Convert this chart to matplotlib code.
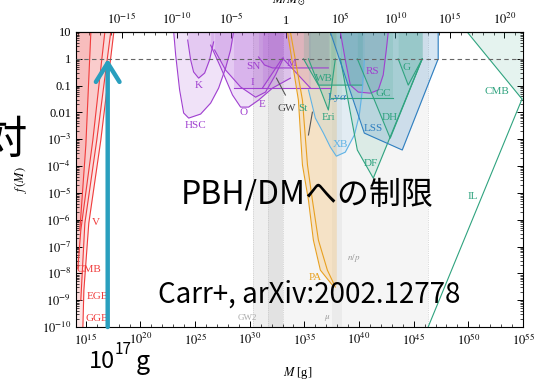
import numpy as np
import matplotlib.pyplot as plt
from matplotlib.ticker import FixedLocator, FixedFormatter, LogLocator, NullFormatter

plt.rcParams['font.family'] = ['Liberation Serif', 'DejaVu Serif']
plt.rcParams['mathtext.fontset'] = 'stix'

M_SUN = 2e33
LOGM_MIN, LOGM_MAX = 14.1, 55.0
LOGF_MIN, LOGF_MAX = -10.0, 1.0

# all curves are (log10 M [g], log10 f)
# evaporation
ggb_m = [17.56, 16.37, 15.27, 14.82, 14.73]
ggb_f = [1.0, -3.03, -6.13, -8.63, -10.0]
egb_m = [17.28, 16.0, 14.91, 14.54]
egb_f = [1.0, -3.03, -6.13, -9.0]
cmbe_m = [16.74, 15.64, 14.54, 14.27]
cmbe_f = [1.0, -3.03, -6.39, -7.81]
voy_m = [15.46, 15.0, 14.45]
voy_f = [1.0, -3.22, -6.39]

# lensing
hsc_m = [23.04, 23.22, 23.58, 23.95, 24.41, 25.50, 26.42, 27.15, 27.79, 28.24, 28.52]
hsc_f = [1.0, 0.14, -1.16, -2.02, -2.21, -2.06, -1.65, -1.09, -0.34, 0.33, 1.0]
kep_m = [24.32, 24.59, 24.86, 25.32, 25.87, 26.32, 26.69]
kep_f = [0.70, -0.04, -0.49, -0.72, -0.53, -0.04, 0.63]
ogle_m = [26.42, 27.33, 28.42, 29.16, 29.89, 30.80, 32.08, 33.72]
ogle_f = [0.51, -0.31, -1.35, -1.80, -1.80, -1.54, -1.09, -0.72]
eros_m = [26.78, 27.79, 29.16, 30.53, 31.44, 32.35, 33.08]
eros_f = [0.33, -0.42, -1.05, -1.43, -1.24, -0.60, 0.03]
ica_m = [28.52, 37.37]
ica_f = [-1.09, -1.09]
sn_m = [30.80, 31.35, 32.08, 34.63, 37.19]
sn_f = [0.07, -0.23, -0.34, -0.34, -0.34]
mac_m = [31.16, 32.99, 35.55]
mac_f = [-1.09, 0.03, -1.09]
rs_m = [38.29, 38.74, 39.20, 39.93, 41.03, 41.76, 42.21, 42.49, 42.67]
rs_f = [1.0, -0.04, -0.98, -1.24, -1.28, -1.16, -0.60, 0.33, 1.0]

# gravitational waves (short curve pieces)
gw1_m = [32.44, 33.26]
gw1_f = [-0.72, -1.35]
gw2_m = [35.73, 35.37]
gw2_f = [-1.99, -2.84]

# dynamical / large scale structure
wb_m = [34.91, 36.28, 40.30]
wb_f = [0.0, -0.98, -0.98]
eri_m = [35.37, 37.19, 37.83]
eri_f = [0.0, -1.91, 0.0]
xb_m = [35.37, 36.00, 36.74, 37.37, 37.92, 38.74, 39.57, 40.02, 40.30, 40.48]
xb_f = [-1.16, -2.21, -2.77, -3.29, -3.63, -3.48, -2.84, -2.10, -1.16, -0.04]
df_m = [38.29, 39.84, 41.30, 45.78]
df_f = [0.0, -3.40, -4.45, 0.0]
dh_m = [39.84, 42.85, 45.78]
dh_f = [0.0, -2.96, 0.0]
lss_m = [37.37, 40.48, 43.95, 47.24, 47.24]
lss_f = [1.0, -2.77, -3.40, 0.0, 1.0]
gc_m = [37.40, 43.13]
gc_f = [-1.46, -1.46]
g_m = [43.58, 44.50, 45.78]
g_f = [0.0, -0.98, 0.0]
cmb_m = [49.89, 54.91]
cmb_f = [1.0, -1.50]
il_m = [54.91, 46.32]
il_f = [-1.50, -10.0]

# accretion
pa1_m = [33.45, 34.45, 34.82, 35.37, 35.82, 36.46, 37.56]
pa1_f = [1.0, -1.54, -3.96, -5.27, -6.76, -7.88, -8.44]
pa2_m = [33.72, 34.82, 35.28, 35.73, 36.28, 37.10, 37.83]
pa2_f = [1.0, -1.54, -3.96, -5.27, -6.76, -7.88, -8.51]
pa_edge = 37.92

# grey bands (GW, n/p, mu)
band_lo = [30.25, 31.71, 33.08, 37.56]
band_hi = [31.71, 33.08, 46.32, 38.40]
band_col = ['#efefef', '#e2e2e2', '#f5f5f5', '#ebebeb']

PURPLE = '#a040d0'
GREEN = '#2fa37f'
BLUE = '#2f7fc0'
LBLUE = '#5fb3e6'
RED = '#f03c3c'
ORANGE = '#e8a020'

labels = ['K', 'HSC', 'O', 'E', 'I', 'SN', 'M', 'RS', 'G', 'WB', r'Ly$\alpha$', 'GC',
          'GW', 'St', 'Eri', 'DH', 'LSS', 'XB', 'DF', 'CMB', 'IL', 'PA', r'$n/p$',
          r'$\mu$', 'GW2', 'V', 'CMB', 'EGB', 'GGB']
label_m = [25.32, 25.05, 29.43, 31.16, 30.25, 30.34, 33.81, 41.21, 44.32, 36.83, 38.01, 42.21,
           33.36, 34.82, 37.19, 42.85, 41.30, 38.29, 41.12, 52.63, 50.43, 36.00, 39.47,
           37.10, 29.79, 15.91, 15.27, 16.10, 16.00]
label_f = [-0.98, -2.47, -1.99, -1.69, -0.87, -0.27, -0.19, -0.46, -0.31, -0.75, -1.46, -1.28,
           -1.87, -1.87, -2.17, -2.17, -2.58, -3.18, -3.89, -1.20, -5.12, -8.14, -7.43,
           -9.67, -9.67, -6.09, -7.84, -8.85, -9.67]
label_col = [PURPLE] * 8 + [GREEN, GREEN, BLUE, GREEN, '#444444', GREEN, GREEN, GREEN, BLUE,
             LBLUE, GREEN, GREEN, GREEN, ORANGE, '#999999', '#999999', '#aaaaaa'] + [RED] * 4
label_size = [8] * 22 + [6.5, 6.5, 6.5] + [8] * 4

xticks = [15, 20, 25, 30, 35, 40, 45, 50, 55]
yticks = [1, 0, -1, -2, -3, -4, -5, -6, -7, -8, -9, -10]
ytick_labels = ['10', '1', '0.1', '0.01'] + [r'$10^{%d}$' % v for v in yticks[4:]]
top_ticks = [-15, -10, -5, 0, 5, 10, 15, 20]
top_labels = [r'$10^{%d}$' % v if v else '1' for v in top_ticks]

fig = plt.figure(figsize=(5.35, 3.8), dpi=100)
ax = fig.add_axes([76 / 535, 53 / 380, 447 / 535, 295 / 380])
ax.set_xscale('log')
ax.set_yscale('log')
ax.set_xlim(10 ** LOGM_MIN, 10 ** LOGM_MAX)
ax.set_ylim(10 ** LOGF_MIN, 10 ** LOGF_MAX)

F_TOP = 10 ** LOGF_MAX
M_LEFT = 10 ** LOGM_MIN


def above(m, f, color, alpha=0.16, lw=0.8, fill=True):
    m = 10 ** np.asarray(m, float)
    f = 10 ** np.asarray(f, float)
    if fill:
        ax.fill_between(m, f, F_TOP, color=color, alpha=alpha, lw=0, zorder=1)
    ax.plot(m, f, color=color, lw=lw, zorder=2)


def left_of(m, f, alpha):
    m = 10 ** np.asarray(m, float)
    f = 10 ** np.asarray(f, float)
    ax.fill_betweenx(f, M_LEFT, m, color=RED, alpha=alpha, lw=0, zorder=1)
    ax.plot(m, f, color=RED, lw=0.8, zorder=2)


for lo, hi, c in zip(band_lo, band_hi, band_col):
    ax.axvspan(10 ** lo, 10 ** hi, color=c, lw=0, zorder=0)
for v in [30.25, 31.71, 33.08, 46.32]:
    ax.axvline(10 ** v, color='#bbbbbb', lw=0.5, ls=':', zorder=0.5)

# evaporation
left_of(ggb_m, ggb_f, 0.12)
left_of(egb_m, egb_f, 0.08)
left_of(cmbe_m, cmbe_f, 0.08)
left_of(voy_m, voy_f, 0.10)

# lensing
for m, f in [(hsc_m, hsc_f), (kep_m, kep_f), (ogle_m, ogle_f), (eros_m, eros_f),
             (ica_m, ica_f), (sn_m, sn_f), (mac_m, mac_f), (rs_m, rs_f)]:
    above(m, f, PURPLE, alpha=0.15)

for m, f in [(gw1_m, gw1_f), (gw2_m, gw2_f)]:
    ax.plot(10 ** np.asarray(m), 10 ** np.asarray(f), color='#555555', lw=0.8, zorder=2)

# accretion
pa1 = 10 ** np.asarray(pa1_f)
ax.fill_betweenx(pa1, 10 ** np.asarray(pa1_m), 10 ** pa_edge, color='#f5c070', alpha=0.35,
                 lw=0, zorder=1)
ax.plot(10 ** np.asarray(pa1_m), pa1, color=ORANGE, lw=0.8, zorder=2)
ax.plot(10 ** np.asarray(pa2_m), 10 ** np.asarray(pa2_f), color=ORANGE, lw=0.8, zorder=2)

# dynamical
above(wb_m, wb_f, GREEN)
above(eri_m, eri_f, GREEN)
above(xb_m, xb_f, LBLUE, alpha=0.12)
above(df_m, df_f, GREEN, alpha=0.12)
above(dh_m, dh_f, GREEN, alpha=0.12)
above(lss_m, lss_f, BLUE, alpha=0.2)
above(gc_m, gc_f, GREEN, alpha=0.12)
above(g_m, g_f, GREEN, alpha=0.12)
above(cmb_m, cmb_f, GREEN, alpha=0.12)
ax.plot(10 ** np.asarray(il_m), 10 ** np.asarray(il_f), color=GREEN, lw=0.8, zorder=2)

ax.axhline(1, color='#666666', lw=0.8, ls=(0, (4, 3)), zorder=3)

for t, m, f, c, s in zip(labels, label_m, label_f, label_col, label_size):
    ax.text(10 ** m, 10 ** f, t, color=c, fontsize=s, ha='center', va='center', zorder=4)

ax.xaxis.set_major_locator(FixedLocator([10.0 ** v for v in xticks]))
ax.xaxis.set_major_formatter(FixedFormatter([r'$10^{%d}$' % v for v in xticks]))
ax.xaxis.set_minor_locator(FixedLocator([10.0 ** v for v in range(14, 56)]))
ax.xaxis.set_minor_formatter(NullFormatter())
ax.yaxis.set_major_locator(FixedLocator([10.0 ** v for v in yticks]))
ax.yaxis.set_major_formatter(FixedFormatter(ytick_labels))
ax.yaxis.set_minor_locator(LogLocator(base=10, subs=np.arange(2, 10), numticks=30))
ax.yaxis.set_minor_formatter(NullFormatter())
ax.tick_params(which='both', direction='in', right=True, top=False, labelsize=9)
ax.tick_params(which='major', length=4, width=0.7)
ax.tick_params(which='minor', length=2, width=0.5)

sec = ax.secondary_xaxis('top', functions=(lambda m: m / M_SUN, lambda m: m * M_SUN))
sec.xaxis.set_major_locator(FixedLocator([10.0 ** v for v in top_ticks]))
sec.xaxis.set_major_formatter(FixedFormatter(top_labels))
sec.xaxis.set_minor_locator(FixedLocator([10.0 ** v for v in range(-19, 22)]))
sec.xaxis.set_minor_formatter(NullFormatter())
sec.tick_params(which='both', direction='in', labelsize=9)
sec.tick_params(which='major', length=4, width=0.7)
sec.tick_params(which='minor', length=2, width=0.5)
fig.text(289 / 535, 1.0, r'$M/M_\odot$', fontsize=9, ha='center', va='center')

ax.set_xlabel(r'$M$ [g]', fontsize=9)
ax.xaxis.set_label_coords((298 - 76) / 447, -0.13)
ax.set_ylabel(r'$f\,(M)$', fontsize=9)
ax.yaxis.set_label_coords(-0.105, 0.5)

# 10^17 g marker
ax.annotate('', xy=(1e17, 1), xytext=(1e17, 10 ** LOGF_MIN),
            arrowprops=dict(arrowstyle='->,head_length=0.4,head_width=0.25', lw=3.2,
                            color='#2a9fbe', mutation_scale=34, shrinkA=0, shrinkB=0),
            zorder=6)

jp = ['Noto Sans CJK JP', 'DejaVu Sans']
fig.text(307 / 535, 1 - 194 / 380, 'PBH/DMへの制限', family=jp, fontsize=23,
         ha='center', va='center', zorder=10)
fig.text(309 / 535, 1 - 295 / 380, 'Carr+, arXiv:2002.12778', family=jp, fontsize=20,
         ha='center', va='center', zorder=10)
fig.text(27 / 535, 1 - 140 / 380, '対', family=jp, fontsize=32, ha='right', va='center')
fig.text(89 / 535, 1 - 362 / 380, '10', family=jp, fontsize=17, ha='left', va='center')
fig.text(115 / 535, 1 - 350 / 380, '17', family=jp, fontsize=11, ha='left', va='center')
fig.text(136 / 535, 1 - 362 / 380, 'g', family=jp, fontsize=18, ha='left', va='center')

fig.savefig('out.png', dpi=100)
